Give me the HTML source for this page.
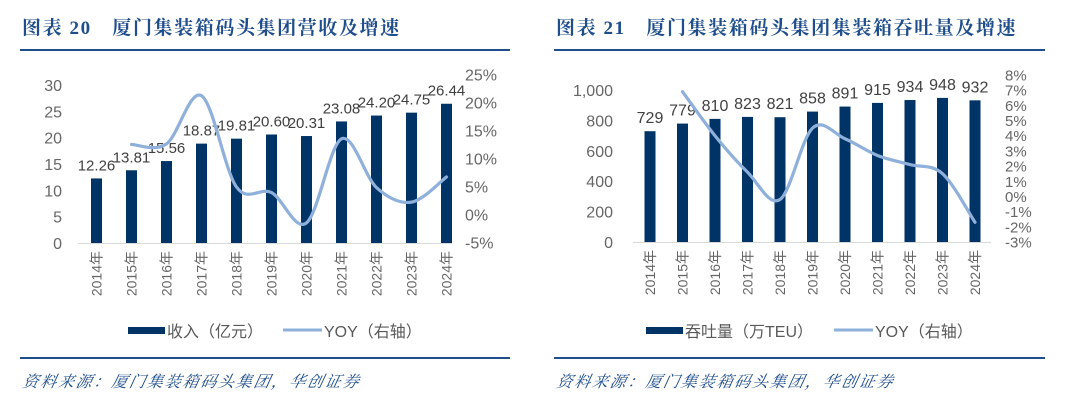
<!DOCTYPE html>
<html><head><meta charset="utf-8"><style>
body{margin:0;background:#fff;width:1080px;height:404px;overflow:hidden}
svg{display:block}
</style></head><body>
<svg id="s" width="1080" height="404" xmlns="http://www.w3.org/2000/svg">
<g font-family="'Liberation Serif','Noto Serif CJK SC',serif" font-weight="bold" fill="#1f4e8c" font-size="19" letter-spacing="1.6">
<text x="22" y="34">图表 20　厦门集装箱码头集团营收及增速</text>
<text x="556" y="34">图表 21　厦门集装箱码头集团集装箱吞吐量及增速</text>
</g>
<rect x="20" y="49" width="490" height="2" fill="#1f4e8c"/>
<rect x="554" y="49" width="491" height="2" fill="#1f4e8c"/>
<rect x="20" y="357" width="490" height="2" fill="#1f4e8c"/>
<rect x="554" y="357" width="491" height="2" fill="#1f4e8c"/>
<g font-family="'Liberation Serif','Noto Serif CJK SC',serif" font-style="italic" fill="#1f4e8c" font-size="16" letter-spacing="1.8">
<text x="22" y="387" transform="skewX(-12) translate(82,0)">资料来源：厦门集装箱码头集团，华创证券</text>
<text x="556" y="387" transform="skewX(-12) translate(82,0)">资料来源：厦门集装箱码头集团，华创证券</text>
</g>
<g id="c1"></g>
<g id="c2"></g>
</svg>
<script>
const years=["2014年","2015年","2016年","2017年","2018年","2019年","2020年","2021年","2022年","2023年","2024年"];
const revenue=[12.26,13.81,15.56,18.87,19.81,20.60,20.31,23.08,24.20,24.75,26.44];
const revenueLabels=["12.26","13.81","15.56","18.87","19.81","20.60","20.31","23.08","24.20","24.75","26.44"];
const revenueYoy=[null,12.6,12.7,21.3,5.0,4.0,-1.4,13.6,4.9,2.3,6.8];
const revTicksL=[0,5,10,15,20,25,30];
const revTicksR=[-5,0,5,10,15,20,25];
const volume=[729,779,810,823,821,858,891,915,934,948,932];
const volumeLabels=["729","779","810","823","821","858","891","915","934","948","932"];
const volumeYoy=[null,6.9,4.0,1.6,-0.2,4.5,3.8,2.7,2.1,1.5,-1.7];
const volTicksL=[0,200,400,600,800,1000];
const volTicksLText=["0","200","400","600","800","1,000"];
const volTicksR=[-3,-2,-1,0,1,2,3,4,5,6,7,8];
const NS="http://www.w3.org/2000/svg";
function mk(p,t,a,txt){const e=document.createElementNS(NS,t);for(const k in a)e.setAttribute(k,a[k]);if(txt!=null)e.textContent=txt;p.appendChild(e);return e;}
function smooth(pts){let d="M"+pts[0][0]+","+pts[0][1];for(let i=0;i<pts.length-1;i++){const p0=pts[i-1]||pts[i],p1=pts[i],p2=pts[i+1],p3=pts[i+2]||p2;const t=6;d+=" C"+(p1[0]+(p2[0]-p0[0])/t)+","+(p1[1]+(p2[1]-p0[1])/t)+" "+(p2[0]-(p3[0]-p1[0])/t)+","+(p2[1]-(p3[1]-p1[1])/t)+" "+p2[0]+","+p2[1];}return d;}
function draw(g,o){
 const yL=v=>o.base-(v-o.lmin)/(o.lmax-o.lmin)*(o.base-o.ltop);
 const yR=v=>o.base-(v-o.rmin)/(o.rmax-o.rmin)*(o.base-o.rtop);
 const xC=i=>o.x0+i*o.step;
 o.ticksL.forEach((t,i)=>{const e=mk(g,"text",{x:o.lx,y:yL(t)+6,"text-anchor":"end","font-size":16,fill:"#666","font-family":"'Liberation Sans',sans-serif"},o.ticksLText?o.ticksLText[i]:String(t));
  
  });
 o.ticksR.forEach(t=>{const e=mk(g,"text",{x:o.rx,y:yR(t)+5.5,"font-size":o.rfs,fill:"#666","font-family":"'Liberation Sans',sans-serif"},t+"%");
  
  });
 const ax=mk(g,"line",{x1:o.ax0,x2:o.ax1,y1:o.base+.5,y2:o.base+.5,stroke:"#d9d9d9","stroke-width":1});
 
 
 o.vals.forEach((v,i)=>{const y=yL(v);
  const b=mk(g,"rect",{x:xC(i)-o.bw/2,y:y,width:o.bw,height:o.base-y,fill:"#003366"});
  
  
  const l=mk(g,"text",{x:xC(i),y:y-8,"text-anchor":"middle","font-size":o.dfs,fill:"#404040","font-family":"'Liberation Sans',sans-serif"},o.labels[i]);
  
  
  const xl=mk(g,"text",{transform:"translate("+(xC(i)+5)+","+(o.base+8)+") rotate(-90)","text-anchor":"end","font-size":14,fill:"#666","font-family":"'Liberation Sans','Noto Sans CJK SC',sans-serif"},years[i]);
  
  });
 const pts=[];o.yoy.forEach((v,i)=>{if(v!=null)pts.push([xC(i),yR(v)]);});
 const p=mk(g,"path",{d:smooth(pts),fill:"none",stroke:"#8eb0da","stroke-width":3.2,"stroke-linecap":"round"});
 
 
 const lg=mk(g,"g",{});
 
 
 const r=mk(lg,"rect",{x:o.lgx,y:327,width:37,height:7,fill:"#003366"});
 
 
 const t1=mk(lg,"text",{x:o.lgx+39,y:337,"font-size":16,fill:"#595959","font-family":"'Liberation Sans','Noto Sans CJK SC',sans-serif"},o.lg1);
 
 
 const ln=mk(lg,"line",{x1:o.lg2x,x2:o.lg2x+39,y1:330,y2:330,stroke:"#8eb0da","stroke-width":3});
 
 
 const t2=mk(lg,"text",{x:o.lg2x+41,y:337,"font-size":16,fill:"#595959","font-family":"'Liberation Sans','Noto Sans CJK SC',sans-serif"},"YOY（右轴）");
 
 
}
draw(document.getElementById("c1"),{vals:revenue,labels:revenueLabels,yoy:revenueYoy,ticksL:revTicksL,ticksR:revTicksR,lmin:0,lmax:30,ltop:85,rmin:-5,rmax:25,rtop:75,base:243,x0:96.5,step:35,bw:11,lx:62,rx:465,rfs:16,dfs:15,ax0:78,ax1:452,lgx:128,lg1:"收入（亿元）",lg2x:283});
draw(document.getElementById("c2"),{vals:volume,labels:volumeLabels,yoy:volumeYoy,ticksL:volTicksL,ticksLText:volTicksLText,ticksR:volTicksR,lmin:0,lmax:1000,ltop:90,rmin:-3,rmax:8,rtop:75,base:242,x0:650,step:32.5,bw:11,lx:613,rx:1005,rfs:15,dfs:16,ax0:633,ax1:991,lgx:646,lg1:"吞吐量（万TEU）",lg2x:834});
</script>
</body></html>
